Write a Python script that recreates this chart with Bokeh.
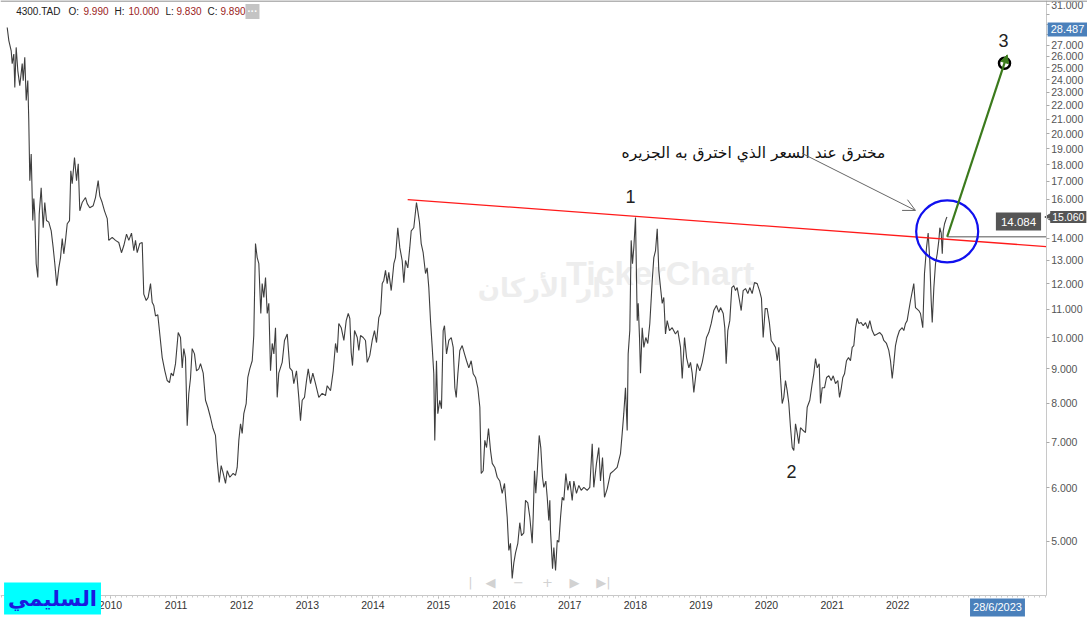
from bokeh.plotting import figure
from bokeh.models import (FixedTicker, CustomJSTickFormatter, Range1d, Label, Arrow,
                          OpenHead, NormalHead, Span)
from bokeh.core.properties import value
from bokeh.embed import file_html
from bokeh.resources import INLINE

# ---------------- data ----------------
years = [
 2008.425,2008.450,2008.486,2008.501,2008.526,2008.541,2008.562,2008.587,2008.617,2008.654,
 2008.669,2008.693,2008.715,2008.739,2008.754,2008.770,2008.791,2008.815,2008.831,2008.846,
 2008.867,2008.892,2008.913,2008.943,2008.974,2008.998,2009.024,2009.059,2009.096,2009.126,
 2009.151,2009.181,2009.212,2009.238,2009.264,2009.288,2009.314,2009.340,2009.375,2009.395,
 2009.416,2009.451,2009.482,2009.508,2009.532,2009.568,2009.619,2009.645,2009.684,2009.736,
 2009.771,2009.812,2009.837,2009.873,2009.908,2009.950,2009.974,2010.026,2010.076,2010.126,
 2010.167,2010.203,2010.244,2010.279,2010.320,2010.355,2010.381,2010.407,2010.446,2010.483,
 2010.507,2010.544,2010.574,2010.610,2010.635,2010.660,2010.686,2010.721,2010.751,2010.788,
 2010.828,2010.864,2010.899,2010.925,2010.956,2010.991,2011.032,2011.067,2011.093,2011.117,
 2011.143,2011.169,2011.193,2011.219,
 2011.245,2011.280,2011.311,2011.346,2011.372,2011.413,2011.448,2011.483,2011.524,2011.559,
 2011.600,2011.626,2011.657,2011.687,2011.718,2011.753,2011.779,2011.818,2011.870,2011.905,
 2011.931,2011.956,2011.982,2012.007,2012.032,2012.068,2012.093,2012.123,2012.160,2012.184,
 2012.210,2012.236,2012.261,2012.291,2012.312,2012.337,2012.363,2012.389,2012.413,2012.439,
 2012.465,2012.490,2012.515,2012.541,2012.565,2012.617,2012.652,2012.694,2012.733,2012.770,
 2012.794,2012.835,2012.870,2012.896,2012.922,2012.957,2012.988,2013.014,2013.049,2013.084,
 2013.125,2013.175,2013.227,2013.277,2013.303,2013.354,2013.395,2013.430,2013.456,2013.480,
 2013.517,2013.557,2013.593,2013.624,2013.648,2013.669,2013.689,2013.720,2013.761,2013.785,
 2013.811,2013.852,2013.887,2013.913,2013.953,
 2013.989,2014.024,2014.055,2014.090,2014.116,2014.142,2014.166,2014.192,2014.218,2014.242,
 2014.279,2014.319,2014.344,2014.379,2014.410,2014.446,2014.471,2014.497,2014.532,2014.562,
 2014.584,2014.623,2014.664,2014.684,2014.710,2014.736,2014.766,2014.802,2014.827,2014.852,
 2014.878,2014.904,2014.928,2014.943,2014.969,2014.989,2015.020,2015.045,2015.071,2015.091,
 2015.122,2015.157,2015.194,2015.224,2015.249,2015.270,2015.295,2015.325,2015.361,2015.396,
 2015.427,2015.462,2015.498,2015.529,2015.564,2015.599,2015.630,2015.651,2015.681,2015.706,
 2015.732,2015.762,2015.793,2015.819,2015.858,2015.895,2015.934,2015.971,2016.006,2016.047,
 2016.072,2016.097,2016.123,2016.148,2016.174,2016.209,2016.239,2016.265,2016.300,2016.326,
 2016.361,2016.392,2016.428,2016.443,2016.463,2016.483,2016.504,2016.535,2016.559,2016.585,
 2016.605,2016.636,2016.657,2016.681,2016.697,
 2016.707,2016.738,2016.758,2016.784,2016.810,2016.834,2016.860,2016.886,2016.910,2016.941,
 2016.971,2017.002,2017.038,2017.063,2017.103,2017.139,2017.175,2017.215,2017.266,2017.306,
 2017.343,2017.367,2017.408,2017.443,2017.469,2017.500,2017.530,2017.571,2017.621,2017.672,
 2017.723,2017.748,2017.774,2017.800,2017.824,2017.850,2017.876,2017.891,2017.916,2017.937,
 2017.957,2017.977,2018.003,2018.029,2018.044,2018.064,2018.079,2018.105,2018.130,2018.160,
 2018.190,2018.221,2018.258,2018.282,2018.308,2018.334,2018.358,2018.384,2018.410,2018.434,
 2018.460,2018.486,2018.521,2018.562,2018.612,2018.648,2018.689,2018.715,2018.750,2018.781,
 2018.816,2018.841,2018.867,2018.892,2018.918,2018.943,2018.983,2019.020,2019.044,2019.085,
 2019.120,2019.157,2019.196,2019.237,2019.273,2019.299,2019.340,2019.364,2019.385,2019.410,
 2019.440,
 2019.471,2019.501,2019.527,2019.553,2019.588,2019.614,2019.644,2019.680,2019.715,2019.745,
 2019.781,2019.817,2019.858,2019.893,2019.923,2019.949,2019.980,2020.010,2020.045,2020.071,
 2020.102,2020.137,2020.163,2020.187,2020.213,2020.239,2020.263,2020.289,2020.315,2020.340,
 2020.366,2020.392,2020.416,2020.442,2020.468,2020.492,2020.518,2020.559,2020.594,2020.620,
 2020.660,2020.696,2020.721,2020.747,2020.773,2020.803,2020.823,2020.849,2020.884,2020.915,
 2020.950,2020.986,2021.017,2021.052,2021.087,2021.113,2021.138,2021.163,2021.189,2021.219,
 2021.250,2021.280,2021.306,2021.331,2021.357,2021.382,2021.407,2021.443,2021.474,2021.509,
 2021.544,2021.575,2021.611,2021.646,2021.687,2021.727,2021.763,2021.788,2021.829,2021.864,
 2021.890,2021.916,2021.940,2021.966,2021.992,2022.027,2022.068,2022.093,2022.119,2022.144,
 2022.169,
 2022.195,2022.245,2022.271,2022.321,2022.347,2022.382,2022.408,2022.439,2022.464,2022.489,
 2022.510,2022.526,2022.551,2022.576,2022.602,2022.627,2022.642,2022.663,2022.679,2022.694,
 2022.714,2022.740,2022.751,
]
prices = [
 28.68,27.43,26.49,25.36,26.20,23.39,26.80,24.75,23.53,25.36,
 23.94,25.92,22.37,23.94,20.90,17.04,18.66,14.88,16.04,15.21,
 12.85,12.26,15.21,16.63,14.52,15.82,14.88,14.80,14.37,13.57,
 12.85,11.93,12.67,13.12,14.00,13.29,13.91,14.72,14.88,17.62,
 16.87,18.43,17.04,18.05,15.38,15.82,16.09,15.76,15.54,15.65,
 16.09,17.04,16.17,15.82,15.38,14.98,13.91,14.05,13.91,13.81,
 13.34,13.67,14.21,13.91,14.26,13.43,13.91,13.34,13.76,13.81,
 11.59,11.34,11.46,12.01,11.27,11.15,10.76,10.80,10.12,9.34,
 8.93,8.64,8.58,8.86,8.78,9.15,10.17,10.00,9.02,9.63,
 9.34,7.41,8.26,8.70,
 9.63,9.46,8.93,8.99,9.15,8.86,8.08,7.89,7.62,7.36,
 7.17,6.58,6.11,6.47,6.30,6.09,6.36,6.22,6.30,6.26,
 6.43,7.05,7.46,7.22,7.72,7.99,8.73,8.99,9.24,10.07,
 13.76,13.12,12.85,10.85,12.01,11.46,12.26,10.85,11.23,8.93,
 9.80,9.46,10.34,8.16,8.86,9.19,9.90,10.12,9.02,8.93,
 8.55,8.93,8.16,7.54,8.08,8.16,8.64,8.99,8.55,8.86,
 8.55,8.16,8.27,8.21,8.49,8.35,8.93,9.80,9.50,10.49,
 10.34,9.90,10.59,10.85,10.67,9.50,9.09,10.24,10.00,9.57,
 10.07,10.00,9.90,9.19,9.41,
 9.90,10.24,9.83,10.70,10.85,12.01,12.14,12.56,12.01,12.48,
 11.73,12.85,13.12,14.52,13.57,12.99,12.05,12.99,12.67,13.57,
 14.37,14.52,15.82,15.38,14.78,13.76,13.34,12.43,12.67,11.85,
 10.59,9.67,8.84,7.05,9.24,7.72,8.08,7.85,10.24,10.41,
 9.46,9.90,10.00,9.67,8.43,8.16,8.84,9.57,9.73,9.46,
 9.24,9.02,9.24,8.84,8.73,8.43,7.89,6.30,6.36,7.05,
 6.88,7.34,6.81,6.52,6.43,6.22,6.14,5.89,6.09,5.43,
 4.85,4.97,4.41,4.65,4.81,4.97,5.33,5.10,5.15,5.75,
 5.70,5.43,4.97,5.43,6.36,5.89,6.30,7.17,6.88,6.22,
 6.01,6.14,5.81,5.37,5.75,
 5.19,4.56,4.90,4.53,5.02,4.99,5.43,5.81,5.75,6.30,
 5.95,6.14,5.75,6.14,5.89,6.05,5.95,6.01,5.95,6.01,
 6.97,6.01,6.52,6.88,6.14,6.65,5.81,5.98,6.30,6.36,
 6.43,6.58,6.74,7.22,7.72,8.43,7.29,9.46,10.24,13.91,
 12.85,13.57,15.03,10.59,11.23,10.00,8.86,10.34,9.67,10.00,
 9.80,10.49,12.14,13.12,13.43,14.47,12.56,11.85,11.23,11.46,
 10.12,10.59,10.24,10.34,10.12,10.24,9.67,8.70,10.00,9.34,
 9.02,9.19,8.86,8.30,8.73,9.15,8.93,9.19,9.46,10.00,
 10.17,10.49,10.96,11.15,10.89,11.07,10.85,10.34,9.15,10.24,
 10.59,
 11.85,11.93,11.73,11.85,11.34,10.96,11.73,11.81,11.61,11.85,
 11.61,12.05,12.01,11.73,11.42,10.00,11.03,11.03,10.49,9.90,
 9.80,9.67,9.24,9.67,8.73,7.99,8.16,8.64,8.35,7.99,
 7.36,6.88,6.81,7.46,7.22,6.97,7.36,7.29,7.24,7.89,
 8.08,8.55,8.84,9.31,9.02,9.15,7.99,8.43,8.43,8.73,
 8.78,8.64,8.78,8.55,8.64,8.16,8.40,8.73,8.84,9.24,
 9.34,9.24,9.67,9.73,10.34,10.67,10.49,10.52,10.41,10.52,
 10.31,10.59,10.24,10.07,10.12,10.17,10.07,9.90,9.80,9.57,
 9.24,8.70,9.15,9.73,10.00,10.24,10.34,10.24,10.49,10.59,
 10.96,
 11.34,12.01,11.07,10.96,10.85,10.34,12.43,13.57,14.26,12.99,
 11.34,10.52,11.85,12.85,13.29,13.91,14.52,14.26,13.29,14.37,
 14.72,14.98,15.06,
]

# resistance line (drawn trend line)
trend_years = [2014.53, 2024.263]
trend_prices = [15.98, 13.62]
# breakout level and target projection
level_value = 14.084
level_years = [2022.754, 2024.263]
target_start = (2022.754, 14.084)
target_end = (2023.669, 26.13)
target_point = (2023.628, 25.40)
circle_center = (2022.754, 14.34)
last_close = 15.060
cursor_price = 28.487
cursor_date = "28/6/2023"

wave_years = [2017.927, 2020.381, 2023.613]
wave_prices = [16.15, 6.34, 27.43]
wave_labels = ["1", "2", "3"]

note_text = "مخترق عند السعر الذي اخترق به الجزيره"
note_pos = (2019.80, 18.75)
note_arrow = (2020.544, 18.69, 2022.271, 15.40)

year_ticks = list(range(2010, 2023))
price_ticks = list(range(5, 32))

# header pieces (OHLC)
header_years = [2008.562, 2009.360, 2009.588, 2010.061, 2010.274, 2010.838, 2011.006, 2011.479, 2011.677]
header_texts = ["4300.TAD", "O:", "9.990", "H:", "10.000", "L:", "9.830", "C:", "9.890"]
header_colors = ["#222222", "#222222", "#9b1b1b", "#222222", "#9b1b1b", "#222222", "#9b1b1b", "#222222", "#9b1b1b"]
header_price = 30.28

# faint navigation widget symbols
nav_years = [2015.488, 2015.793, 2016.220, 2016.662, 2017.073, 2017.515]
nav_symbols = ["|", "◀", "−", "+", "▶", "▶|"]
nav_price = 4.349

# view limits (whole picture) and axis positions
x_view = (2008.323, 2024.893)
y_view = (3.862, 31.43)
y_axis_at_year = 2024.263
x_axis_at_price = 4.162
top_border_price = 31.37

# ---------------- figure ----------------
p = figure(width=1087, height=617, y_axis_type="log", y_axis_location="right",
           x_range=Range1d(*x_view), y_range=Range1d(*y_view),
           output_backend="svg", toolbar_location=None,
           min_border_left=0, min_border_right=0, min_border_top=0, min_border_bottom=0)
p.xgrid.visible = False
p.ygrid.visible = False
p.outline_line_color = None
p.background_fill_color = "white"
p.border_fill_color = "white"

p.add_layout(Span(location=top_border_price, dimension="width", line_color="#9a9a9a", line_width=1.5))

# watermark
p.text([2018.38], [12.47], text=["TickerChart"], text_font=value("Liberation Sans"),
       text_font_size=value("34px"), text_font_style="bold", text_color="#ededed",
       text_align="center", text_baseline="middle")
p.text([2016.64], [11.85], text=["دار الأركان"], text_font=value("DejaVu Sans"),
       text_font_size=value("26px"), text_font_style="bold", text_color="#ededed",
       text_align="center", text_baseline="middle")
p.text(nav_years, [nav_price] * len(nav_years), text=nav_symbols, text_font=value("DejaVu Sans"),
       text_font_size=value("13px"), text_color="#d2d2d2",
       text_align="center", text_baseline="middle")

p.line(years, prices, line_color="#3e3e3e", line_width=1.1)
p.line(trend_years, trend_prices, line_color="#ff1a1a", line_width=1.3)
p.line(level_years, [level_value, level_value], line_color="#8c8c8c", line_width=1.5)

p.scatter([circle_center[0]], [circle_center[1]], marker="circle", size=62,
          fill_color=None, line_color="#1010ee", line_width=2.2)

p.add_layout(Arrow(end=NormalHead(size=8, fill_color="#3b7a1c", line_color="#3b7a1c"),
                   x_start=target_start[0], y_start=target_start[1],
                   x_end=target_end[0], y_end=target_end[1],
                   line_color="#3b7a1c", line_width=2.2))
p.scatter([target_point[0]], [target_point[1]], marker="circle", size=11,
          fill_color="white", line_color="black", line_width=2.5)

p.add_layout(Arrow(end=OpenHead(size=12, line_color="#666666", line_width=1),
                   x_start=note_arrow[0], y_start=note_arrow[1],
                   x_end=note_arrow[2], y_end=note_arrow[3],
                   line_color="#666666", line_width=1))

p.text(wave_years, wave_prices, text=wave_labels, text_font=value("Liberation Sans"),
       text_font_size=value("18px"), text_color="#222222",
       text_align="center", text_baseline="middle")
p.text([note_pos[0]], [note_pos[1]], text=[note_text], text_font=value("DejaVu Sans"),
       text_font_size=value("15.5px"), text_color="#111111",
       text_align="center", text_baseline="middle")

# header
for hx, ht, hc in zip(header_years, header_texts, header_colors):
    p.text([hx], [header_price], text=[ht], text_font=value("Liberation Sans"),
           text_font_size=value("10px"), text_color=hc,
           text_align="left", text_baseline="middle")
p.add_layout(Label(x=2012.164, y=header_price, text="···", text_color="white",
                   text_font_size="10px", text_font_style="bold", text_align="center", text_baseline="middle",
                   background_fill_color="#c4c4c4", padding=2))

# tags
p.add_layout(Label(x=2023.841, y=14.83, text=f"{level_value:.3f}", text_color="white",
                   text_font="Liberation Sans", text_font_size="11.5px",
                   text_align="center", text_baseline="middle",
                   background_fill_color="#555555", padding=5))
p.add_layout(Label(x=2024.588, y=cursor_price, text=f"{cursor_price:.3f}", text_color="white",
                   text_font="Liberation Sans", text_font_size="11px",
                   text_align="center", text_baseline="middle",
                   background_fill_color="#4a80bb", padding=3))
p.scatter([2024.33], [last_close], marker="triangle", angle=1.5708, size=10,
          fill_color="#555555", line_color="#555555")
p.add_layout(Label(x=2024.60, y=last_close, text=f"{last_close:.3f}", text_color="white",
                   text_font="Liberation Sans", text_font_size="10.5px",
                   text_align="center", text_baseline="middle",
                   background_fill_color="#555555", padding=2))
p.add_layout(Label(x=2023.521, y=3.996, text=cursor_date, text_color="white",
                   text_font="Liberation Sans", text_font_size="11px",
                   text_align="center", text_baseline="middle",
                   background_fill_color="#4a80bb", padding=3))
p.add_layout(Label(x=2009.116, y=4.119, text="السليمي", text_color="#1a1ae0",
                   text_font="DejaVu Sans", text_font_size="21px", text_font_style="bold",
                   text_align="center", text_baseline="middle",
                   background_fill_color="#00ffff", padding=4))

# axes (drawn at fixed positions inside the full-size frame)
xa = p.below[0]
ya = p.right[0]
xa.fixed_location = x_axis_at_price
ya.fixed_location = y_axis_at_year
minor = [y + m / 12 for y in range(2008, 2025) for m in range(12) if y + m / 12 <= y_axis_at_year]
xa.ticker = FixedTicker(ticks=year_ticks, minor_ticks=minor)
xa.formatter = CustomJSTickFormatter(code="return tick.toFixed(0);")
xa.axis_line_color = "#c8c8c8"
xa.bounds = (x_view[0], y_axis_at_year)
xa.major_tick_line_color = "#aaaaaa"
xa.major_tick_out = 3
xa.major_tick_in = 0
xa.minor_tick_line_color = "#cccccc"
xa.minor_tick_out = 2
xa.minor_tick_in = 0
xa.major_label_standoff = 3
xa.major_label_text_font = "Liberation Sans"
xa.major_label_text_font_size = "10.5px"
xa.major_label_text_color = "#333333"

ya.ticker = FixedTicker(ticks=price_ticks)
ya.formatter = CustomJSTickFormatter(code="return (tick > 27.5 && tick < 30.5) ? '' : tick.toFixed(3);")
ya.axis_line_color = "#c8c8c8"
ya.bounds = (x_axis_at_price, y_view[1])
ya.major_tick_line_color = "#aaaaaa"
ya.major_tick_out = 3
ya.major_tick_in = 0
ya.minor_tick_line_color = None
ya.major_label_standoff = 2
ya.major_label_text_font = "Liberation Sans"
ya.major_label_text_font_size = "10.5px"
ya.major_label_text_color = "#555555"

open("out.html", "w").write(file_html(p, INLINE))
